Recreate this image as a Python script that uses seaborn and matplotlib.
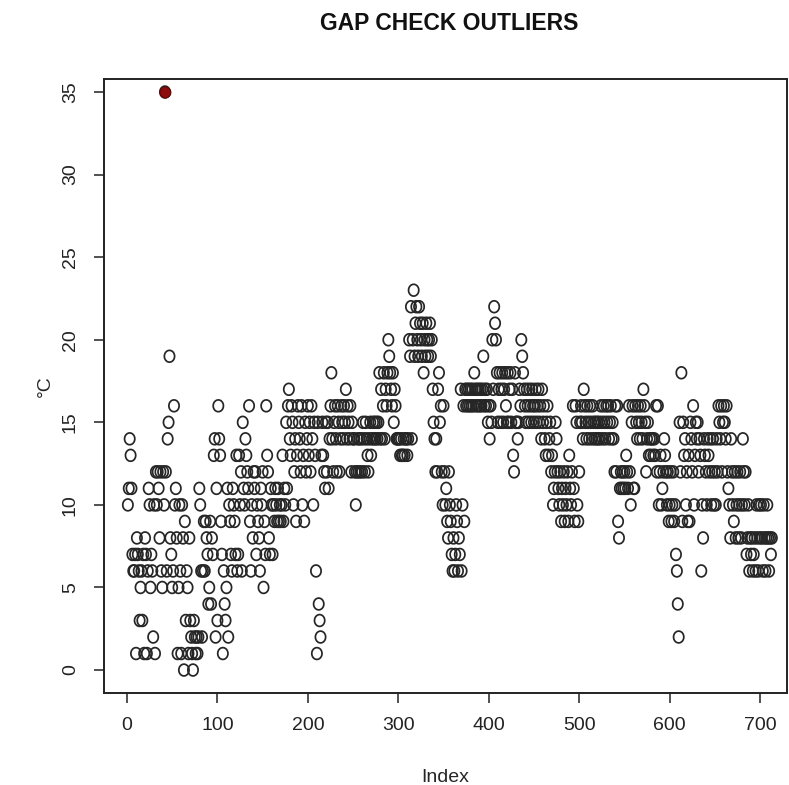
import numpy as np
import pandas as pd
import matplotlib
matplotlib.use('Agg')
import matplotlib.pyplot as plt
from matplotlib.path import Path
import seaborn as sns

# daily temperatures (°C), index 1..713
seg_a = [10, 11, 14, 13, 11, 7, 6, 6, 7, 1,
         8, 7, 6, 3, 5, 6, 3, 7, 1, 8,
         7, 1, 6, 11, 10, 5, 7, 6, 2, 10,
         1, 12, 10, 12, 11, 8, 12, 6, 5, 12,
         10, 35, 12, 6, 14, 15, 19, 8, 7, 5,
         6, 16, 10, 11, 8, 1, 5, 10, 6, 1,
         10, 8, 0, 9, 3, 6, 5, 1, 8, 3,
         2, 1, 0, 3, 2, 1, 2, 1, 2, 11,
         10, 6, 2, 6, 9, 6, 9, 8, 7, 4,
         5, 9, 4, 8, 7, 13, 14, 2, 11, 3,
         16, 14, 13, 9, 7, 1, 6, 4, 3, 5,
         11, 2, 10, 9, 7, 6, 11, 10, 9, 7]
seg_b = [13, 6, 7, 13, 10, 12, 6, 15, 11, 10,
         14, 13, 12, 11, 16, 9, 6, 10, 8, 12,
         11, 12, 7, 10, 9, 8, 6, 11, 10, 12,
         5, 9, 7, 16, 13, 12, 8, 7, 11, 10,
         7, 10, 9, 11, 10, 9, 11, 9, 10, 9,
         10, 13, 9, 11, 10, 15, 11, 16, 17, 14,
         13, 16, 15, 10, 12, 14, 9, 13, 16, 15,
         14, 12, 16, 10, 13, 9, 15, 12, 14, 16,
         13, 15, 12, 16, 14, 10, 15, 13, 6, 1,
         15, 4, 3, 2, 13, 15, 13, 12, 11, 15,
         12, 15, 11, 14, 16, 18, 14, 12, 15, 16,
         14, 12, 16, 15, 12, 14, 16, 15, 14, 16]
seg_c = [15, 17, 14, 16, 15, 14, 16, 12, 15, 14,
         14, 12, 10, 12, 14, 12, 14, 12, 14, 12,
         15, 14, 12, 15, 14, 13, 12, 14, 15, 13,
         14, 15, 14, 15, 14, 15, 14, 15, 18, 14,
         17, 14, 16, 18, 14, 17, 16, 18, 20, 19,
         18, 17, 16, 18, 15, 17, 16, 14, 14, 14,
         14, 13, 14, 13, 13, 14, 13, 14, 14, 13,
         14, 20, 19, 22, 14, 20, 23, 19, 21, 22,
         20, 19, 22, 21, 20, 19, 21, 18, 20, 19,
         21, 20, 19, 20, 21, 19, 20, 17, 15, 14,
         12, 14, 12, 17, 18, 15, 16, 12, 10, 16,
         12, 10, 11, 9, 8, 12, 10, 9, 7, 6]
seg_d = [8, 6, 7, 10, 9, 6, 8, 7, 17, 6,
         10, 16, 9, 17, 16, 17, 16, 17, 16, 17,
         16, 17, 16, 18, 17, 16, 17, 16, 17, 16,
         17, 16, 17, 19, 16, 17, 16, 17, 15, 16,
         14, 16, 15, 20, 17, 22, 21, 20, 18, 15,
         17, 18, 15, 17, 18, 15, 17, 18, 16, 15,
         18, 15, 17, 18, 15, 17, 13, 12, 18, 15,
         15, 14, 15, 17, 16, 20, 19, 18, 17, 16,
         15, 17, 16, 15, 17, 16, 15, 17, 16, 15,
         16, 17, 15, 16, 17, 15, 16, 14, 17, 15,
         16, 14, 13, 15, 16, 13, 14, 15, 12, 13,
         10, 11, 12, 15, 14, 12, 11, 10, 12, 9]
seg_e = [11, 10, 12, 9, 11, 10, 12, 9, 13, 11,
         10, 12, 16, 11, 9, 16, 15, 10, 9, 12,
         15, 16, 15, 14, 17, 16, 15, 14, 16, 15,
         14, 16, 15, 14, 16, 15, 14, 15, 14, 15,
         14, 15, 14, 16, 15, 14, 16, 15, 14, 16,
         15, 16, 14, 15, 16, 14, 15, 14, 12, 16,
         12, 16, 9, 8, 11, 12, 11, 12, 11, 12,
         11, 13, 12, 11, 16, 12, 10, 15, 16, 11,
         11, 16, 15, 14, 16, 15, 14, 16, 15, 14,
         17, 16, 15, 12, 14, 15, 13, 14, 13, 14,
         14, 13, 14, 13, 16, 12, 16, 10, 12, 13,
         10, 11, 12, 14, 13, 12, 10, 12, 9, 10]
seg_f = [12, 9, 10, 12, 9, 10, 7, 6, 4, 2,
         15, 12, 18, 9, 15, 13, 14, 10, 12, 9,
         13, 9, 15, 14, 12, 16, 10, 13, 15, 14,
         15, 12, 14, 13, 6, 10, 8, 14, 13, 12,
         10, 14, 13, 12, 14, 10, 12, 14, 10, 12,
         10, 14, 12, 16, 15, 14, 16, 12, 15, 16,
         15, 14, 16, 12, 11, 10, 8, 14, 12, 10,
         9, 12, 8, 10, 12, 8, 10, 12, 8, 10,
         14, 12, 10, 12, 7, 8, 10, 6, 8, 7,
         8, 6, 7, 8, 6, 10, 8, 6, 10, 8,
         10, 8, 6, 10, 8, 6, 8, 10, 8, 6,
         8, 7, 8]

temps = seg_a + seg_b + seg_c + seg_d + seg_e + seg_f
outlier_limit = 30

df = pd.DataFrame({'Index': np.arange(1, len(temps) + 1), 'temp': temps})
outliers = df[df['temp'] > outlier_limit]

sns.set_style('white')
plt.rcParams['font.family'] = ['Liberation Sans', 'DejaVu Sans']

# the scanned original is a little stretched vertically, so use a slightly oval marker
t = np.linspace(0, 2 * np.pi, 41)
oval = Path(np.column_stack([0.87 * np.cos(t), np.sin(t)]), closed=True)

fig = plt.figure(figsize=(7.89, 7.85), dpi=100)
ax = fig.add_axes([0.1318, 0.1172, 0.8657, 0.7822])

sns.scatterplot(data=df, x='Index', y='temp', ax=ax, marker=oval, s=72,
                color='none', edgecolor='#262626', linewidth=1.25, legend=False)
ax.collections[0].set_facecolor('none')
# flagged point on top
sns.scatterplot(data=outliers, x='Index', y='temp', ax=ax, marker='o', s=60,
                color='#8e0c0c', edgecolor='#6a0505', linewidth=0.8, legend=False)

ax.set_xlim(-25.4, 729.8)
ax.set_ylim(-1.39, 35.79)
ax.set_xticks(range(0, 701, 100))
ax.set_yticks(range(0, 36, 5))

for sp in ax.spines.values():
    sp.set_linewidth(1.4)
    sp.set_color('#222222')
ax.tick_params(direction='out', length=7, width=1.1, colors='#222222',
               labelsize=14, bottom=True, left=True)
ax.tick_params(axis='x', pad=10)
ax.tick_params(axis='y', pad=11, labelrotation=90)
for lab in ax.get_yticklabels():
    lab.set_va('center')

ax.set_xlabel('Index', fontsize=14)
ax.set_ylabel('°C', fontsize=14)
ax.xaxis.set_label_coords(0.5, -0.137)
ax.yaxis.set_label_coords(-0.086, 0.5)
ax.xaxis.label.set_va('center')
ax.yaxis.label.set_va('center')

fig.text(0.569, 0.9707, 'GAP CHECK OUTLIERS', ha='center', va='center',
         fontsize=16.5, fontweight='bold', color='#111111')

fig.savefig('out.png', dpi=100)
